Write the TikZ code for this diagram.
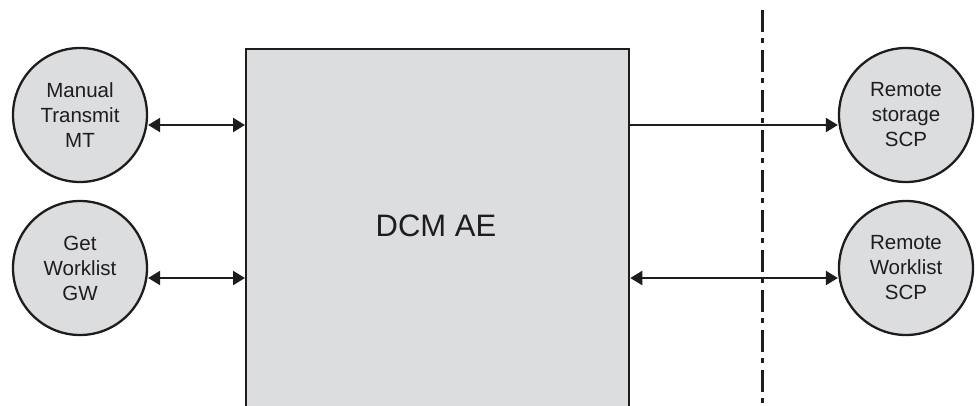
\documentclass[tikz,border=0pt]{standalone}
\usepackage{fontspec}
\setmainfont{Liberation Sans}
\usetikzlibrary{arrows.meta}
\definecolor{boxgray}{RGB}{220,221,223}
\definecolor{ink}{RGB}{30,28,29}
\tikzset{
  x=1pt, y=-1pt,
  proc/.style={circle, draw=ink, line width=2.3pt, fill=boxgray, minimum size=134pt, inner sep=0pt,
    align=center, font=\fontsize{20.5}{25}\selectfont, text=ink},
  ae/.style={rectangle, draw=ink, line width=2.3pt, fill=boxgray, minimum width=383pt, minimum height=380pt,
    anchor=north west, inner sep=0pt},
  link/.style={draw=ink, line width=2.3pt},
  tip/.tip={Triangle[length=12pt,width=14pt]},
  boundary/.style={draw=ink, line width=3pt, dash pattern=on 22pt off 6pt on 5pt off 7pt}
}
\begin{document}
\begin{tikzpicture}
\useasboundingbox (0,0) rectangle (980,405);
\clip (0,0) rectangle (980,405);
\node[ae] (dcm) at (245,48) {};
\node[font=\fontsize{31}{36}\selectfont, text=ink] (dcmlabel) at (436,226) {DCM AE};
\node[proc] (mt) at (80,115) {Manual\\Transmit\\MT};
\node[proc] (gw) at (80,268) {Get\\Worklist\\GW};
\node[proc] (rs) at (906,115) {Remote\\storage\\SCP};
\node[proc] (rw) at (906,268) {Remote\\Worklist\\SCP};
\coordinate (dtop) at (762,10);
\coordinate (dbot) at (762,420);
\draw[boundary] (dtop) -- (dbot);
\draw[link, tip-tip] (mt.east |- 0,125) -- (dcm.west |- 0,125);
\draw[link, tip-tip] (gw.east |- 0,278) -- (dcm.west |- 0,278);
\draw[link, -tip] (dcm.east |- 0,125) -- (rs.west |- 0,125);
\draw[link, tip-tip] (dcm.east |- 0,278) -- (rw.west |- 0,278);
\end{tikzpicture}
\end{document}
